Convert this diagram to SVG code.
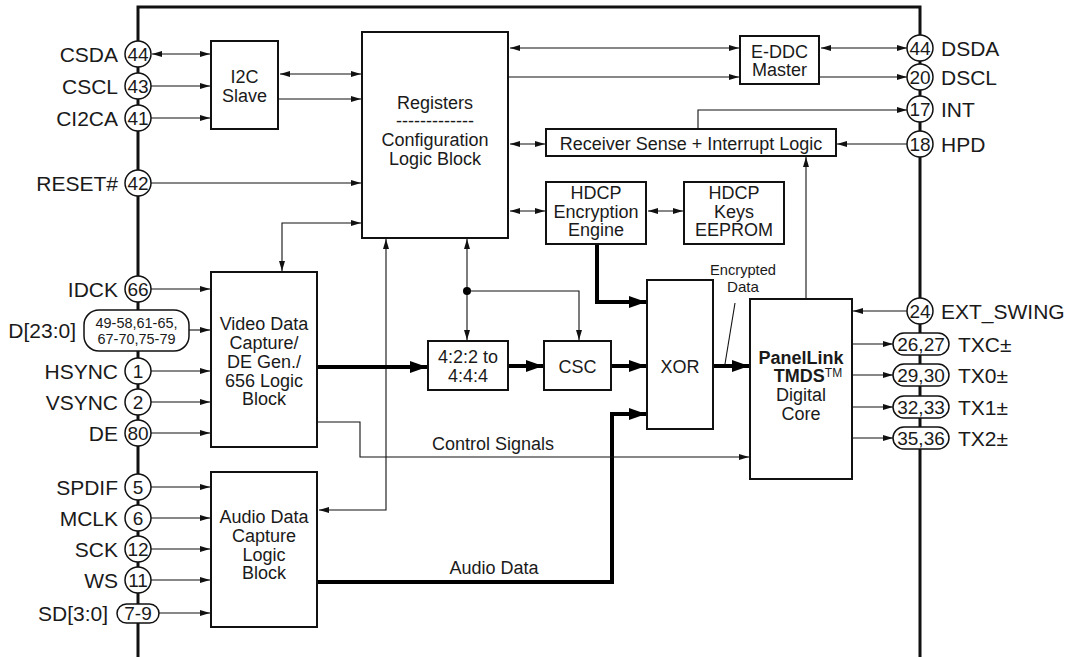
<svg xmlns="http://www.w3.org/2000/svg" width="1068" height="657" viewBox="0 0 1068 657">
<style>
text{font-family:"Liberation Sans",Arial,Helvetica,sans-serif;fill:#1a1a1a}
.lbl{font-size:21px}
.lr{text-anchor:end}
.num{font-size:19px;text-anchor:middle}
.blk{font-size:18px;text-anchor:middle}
.box{fill:#fff;stroke:#111;stroke-width:2}
.pin{fill:#fff;stroke:#111;stroke-width:1.5}
.w{fill:none;stroke:#111;stroke-width:1.1}
.wa{fill:none;stroke:#111;stroke-width:1.1;marker-end:url(#a)}
.wb{fill:none;stroke:#111;stroke-width:1.1;marker-start:url(#a);marker-end:url(#a)}
.t{fill:none;stroke:#000;stroke-width:4;marker-end:url(#ta)}
</style>
<defs>
<marker id="a" markerUnits="userSpaceOnUse" markerWidth="10" markerHeight="6" refX="10" refY="3" orient="auto-start-reverse"><path d="M0,0 L10,3 L0,6 z" fill="#111"/></marker>
<marker id="ta" markerUnits="userSpaceOnUse" markerWidth="17" markerHeight="12" refX="17" refY="6" orient="auto"><path d="M0,0 L17,6 L0,12 z" fill="#000"/></marker>
</defs>
<rect width="1068" height="657" fill="#fff"/>
<path d="M138,657 V7 H920 V657" fill="none" stroke="#111" stroke-width="3"/>

<g id="connectors">
<line class="wb" x1="152" y1="54" x2="210" y2="54"/>
<line class="wa" x1="151" y1="86" x2="210" y2="86"/>
<line class="wa" x1="151" y1="118" x2="210" y2="118"/>
<line class="wa" x1="151" y1="183" x2="361" y2="183"/>
<line class="wb" x1="280" y1="74" x2="361" y2="74"/>
<line class="wa" x1="279" y1="99" x2="361" y2="99"/>
<line class="wb" x1="510" y1="48" x2="739" y2="48"/>
<line class="wa" x1="509" y1="77" x2="739" y2="77"/>
<line class="wb" x1="821" y1="48" x2="907" y2="48"/>
<line class="wa" x1="820" y1="77" x2="907" y2="77"/>
<path class="wa" d="M698,128 V110 H907"/>
<line class="wa" x1="907" y1="144" x2="837" y2="144"/>
<line class="wb" x1="510" y1="144" x2="545" y2="144"/>
<line class="wb" x1="510" y1="211" x2="545" y2="211"/>
<line class="wb" x1="648" y1="211" x2="683" y2="211"/>
<path class="wa" d="M806,298 V157"/>
<path class="wb" d="M282,271 V223 H361"/>
<line class="wa" x1="151" y1="289" x2="210" y2="289"/>
<line class="wa" x1="189" y1="330" x2="210" y2="330"/>
<line class="wa" x1="151" y1="371" x2="210" y2="371"/>
<line class="wa" x1="151" y1="402" x2="210" y2="402"/>
<line class="wa" x1="151" y1="433" x2="210" y2="433"/>
<line class="wa" x1="151" y1="487" x2="210" y2="487"/>
<line class="wa" x1="151" y1="518" x2="210" y2="518"/>
<line class="wa" x1="151" y1="549" x2="210" y2="549"/>
<line class="wa" x1="151" y1="580" x2="210" y2="580"/>
<line class="wa" x1="159" y1="613" x2="210" y2="613"/>
<path class="wb" d="M319,510 H386 V239"/>
<path class="wb" d="M467,239 V340"/>
<circle cx="467" cy="291" r="4" fill="#000"/>
<path class="wa" d="M467,291 H579 V340"/>
<path class="t" d="M318,367 H427"/>
<path class="t" d="M509,366 H543"/>
<path class="t" d="M612,366 H646"/>
<path class="t" d="M597,245 V302 H646"/>
<path class="t" d="M318,582 H612 V414 H646"/>
<path class="t" d="M714,366 H749"/>
<path class="wa" d="M318,422 H360 V457 H749"/>
<line class="wa" x1="907" y1="311" x2="853" y2="311"/>
<line class="wa" x1="853" y1="344" x2="893" y2="344"/>
<line class="wa" x1="853" y1="375" x2="893" y2="375"/>
<line class="wa" x1="853" y1="407" x2="893" y2="407"/>
<line class="wa" x1="853" y1="438" x2="893" y2="438"/>
<line class="w" x1="735" y1="303" x2="725" y2="364"/>
<text x="493" y="450" class="blk">Control Signals</text>
<text x="494" y="574" class="blk">Audio Data</text>
<text x="743" y="275" class="blk" style="font-size:15px" textLength="66" lengthAdjust="spacingAndGlyphs">Encrypted</text>
<text x="743" y="292" class="blk" style="font-size:15px" textLength="32" lengthAdjust="spacingAndGlyphs">Data</text>
</g>

<g id="pin-csda"><circle class="pin" cx="138" cy="54" r="13"/><text x="138" y="61" class="num">44</text><text x="118" y="61.5" class="lbl lr">CSDA</text></g>
<g id="pin-cscl"><circle class="pin" cx="138" cy="86" r="13"/><text x="138" y="93" class="num">43</text><text x="118" y="93.5" class="lbl lr">CSCL</text></g>
<g id="pin-ci2ca"><circle class="pin" cx="138" cy="118" r="13"/><text x="138" y="125" class="num">41</text><text x="118" y="125.5" class="lbl lr">CI2CA</text></g>
<g id="pin-reset"><circle class="pin" cx="138" cy="183" r="13"/><text x="138" y="190" class="num">42</text><text x="118" y="190.5" class="lbl lr">RESET#</text></g>
<g id="pin-idck"><circle class="pin" cx="138" cy="289" r="13"/><text x="138" y="296" class="num">66</text><text x="118" y="296.5" class="lbl lr">IDCK</text></g>
<g id="pin-d"><rect class="pin" x="84" y="310" width="105" height="41" rx="15"/><text x="136.5" y="328" class="num" style="font-size:15.5px" textLength="82" lengthAdjust="spacingAndGlyphs">49-58,61-65,</text><text x="136.5" y="344" class="num" style="font-size:15.5px" textLength="78" lengthAdjust="spacingAndGlyphs">67-70,75-79</text><text x="76" y="337.5" class="lbl lr">D[23:0]</text></g>
<g id="pin-hsync"><circle class="pin" cx="138" cy="371" r="13"/><text x="138" y="378" class="num">1</text><text x="118" y="378.5" class="lbl lr">HSYNC</text></g>
<g id="pin-vsync"><circle class="pin" cx="138" cy="402" r="13"/><text x="138" y="409" class="num">2</text><text x="118" y="409.5" class="lbl lr">VSYNC</text></g>
<g id="pin-de"><circle class="pin" cx="138" cy="433" r="13"/><text x="138" y="440" class="num">80</text><text x="118" y="440.5" class="lbl lr">DE</text></g>
<g id="pin-spdif"><circle class="pin" cx="138" cy="487" r="13"/><text x="138" y="494" class="num">5</text><text x="118" y="494.5" class="lbl lr">SPDIF</text></g>
<g id="pin-mclk"><circle class="pin" cx="138" cy="518" r="13"/><text x="138" y="525" class="num">6</text><text x="118" y="525.5" class="lbl lr">MCLK</text></g>
<g id="pin-sck"><circle class="pin" cx="138" cy="549" r="13"/><text x="138" y="556" class="num">12</text><text x="118" y="556.5" class="lbl lr">SCK</text></g>
<g id="pin-ws"><circle class="pin" cx="138" cy="580" r="13"/><text x="138" y="587" class="num">11</text><text x="118" y="587.5" class="lbl lr">WS</text></g>
<g id="pin-sd"><rect class="pin" x="117" y="604" width="42" height="19" rx="9.5"/><text x="138" y="620" class="num">7-9</text><text x="108" y="620.5" class="lbl lr">SD[3:0]</text></g>

<g id="pin-dsda"><circle class="pin" cx="920" cy="48" r="13"/><text x="920" y="55" class="num">44</text><text x="941" y="55.5" class="lbl">DSDA</text></g>
<g id="pin-dscl"><circle class="pin" cx="920" cy="77" r="13"/><text x="920" y="84" class="num">20</text><text x="941" y="84.5" class="lbl">DSCL</text></g>
<g id="pin-int"><circle class="pin" cx="920" cy="109" r="13"/><text x="920" y="116" class="num">17</text><text x="941" y="116.5" class="lbl">INT</text></g>
<g id="pin-hpd"><circle class="pin" cx="920" cy="144" r="13"/><text x="920" y="151" class="num">18</text><text x="941" y="151.5" class="lbl">HPD</text></g>
<g id="pin-extswing"><circle class="pin" cx="920" cy="311" r="13"/><text x="920" y="318" class="num">24</text><text x="941" y="318.5" class="lbl">EXT_SWING</text></g>
<g id="pin-txc"><rect class="pin" x="893" y="333" width="56" height="22" rx="11"/><text x="921" y="351" class="num">26,27</text><text x="958" y="351.5" class="lbl">TXC±</text></g>
<g id="pin-tx0"><rect class="pin" x="893" y="364" width="56" height="22" rx="11"/><text x="921" y="382" class="num">29,30</text><text x="958" y="382.5" class="lbl">TX0±</text></g>
<g id="pin-tx1"><rect class="pin" x="893" y="396" width="56" height="22" rx="11"/><text x="921" y="414" class="num">32,33</text><text x="958" y="414.5" class="lbl">TX1±</text></g>
<g id="pin-tx2"><rect class="pin" x="893" y="427" width="56" height="22" rx="11"/><text x="921" y="445" class="num">35,36</text><text x="958" y="445.5" class="lbl">TX2±</text></g>

<g id="i2c-slave"><rect class="box" x="211" y="41" width="67" height="88"/><text x="244.5" y="83" class="blk">I2C</text><text x="244.5" y="102" class="blk">Slave</text></g>
<g id="registers"><rect class="box" x="362" y="32" width="146" height="206"/><text x="435" y="109" class="blk">Registers</text><text x="435" y="127" class="blk">-------------</text><text x="435" y="146" class="blk">Configuration</text><text x="435" y="165" class="blk">Logic Block</text></g>
<g id="eddc-master"><rect class="box" x="740" y="36" width="79" height="48"/><text x="779.5" y="58" class="blk">E-DDC</text><text x="779.5" y="76" class="blk">Master</text></g>
<g id="receiver-sense"><rect class="box" x="546" y="129" width="290" height="27"/><text x="691" y="150" class="blk">Receiver Sense + Interrupt Logic</text></g>
<g id="hdcp-engine"><rect class="box" x="546" y="182" width="100" height="62"/><text x="596" y="199" class="blk">HDCP</text><text x="596" y="217.5" class="blk">Encryption</text><text x="596" y="236" class="blk">Engine</text></g>
<g id="hdcp-keys"><rect class="box" x="684" y="182" width="100" height="62"/><text x="734" y="199" class="blk">HDCP</text><text x="734" y="217.5" class="blk">Keys</text><text x="734" y="236" class="blk">EEPROM</text></g>
<g id="video-capture"><rect class="box" x="211" y="272" width="106" height="175"/><text x="264" y="329.5" class="blk">Video Data</text><text x="264" y="349" class="blk">Capture/</text><text x="264" y="368" class="blk">DE Gen./</text><text x="264" y="386.5" class="blk">656 Logic</text><text x="264" y="405" class="blk">Block</text></g>
<g id="audio-capture"><rect class="box" x="211" y="472" width="106" height="155"/><text x="264" y="522.5" class="blk">Audio Data</text><text x="264" y="541.5" class="blk">Capture</text><text x="264" y="560.5" class="blk">Logic</text><text x="264" y="578.5" class="blk">Block</text></g>
<g id="upsample"><rect class="box" x="428" y="341" width="80" height="49"/><text x="468" y="363" class="blk">4:2:2 to</text><text x="468" y="382" class="blk">4:4:4</text></g>
<g id="csc"><rect class="box" x="544" y="341" width="67" height="49"/><text x="577.5" y="372.5" class="blk">CSC</text></g>
<g id="xor"><rect class="box" x="647" y="280" width="66" height="149"/><text x="680" y="372.5" class="blk">XOR</text></g>
<g id="tmds-core"><rect class="box" x="750" y="299" width="102" height="180"/><text x="801" y="363.5" class="blk" style="font-weight:bold">PanelLink</text><text x="808" y="381.5" class="blk"><tspan style="font-weight:bold">TMDS</tspan><tspan font-size="12" dy="-5">TM</tspan></text><text x="801" y="400.5" class="blk">Digital</text><text x="801" y="419.5" class="blk">Core</text></g>
</svg>
